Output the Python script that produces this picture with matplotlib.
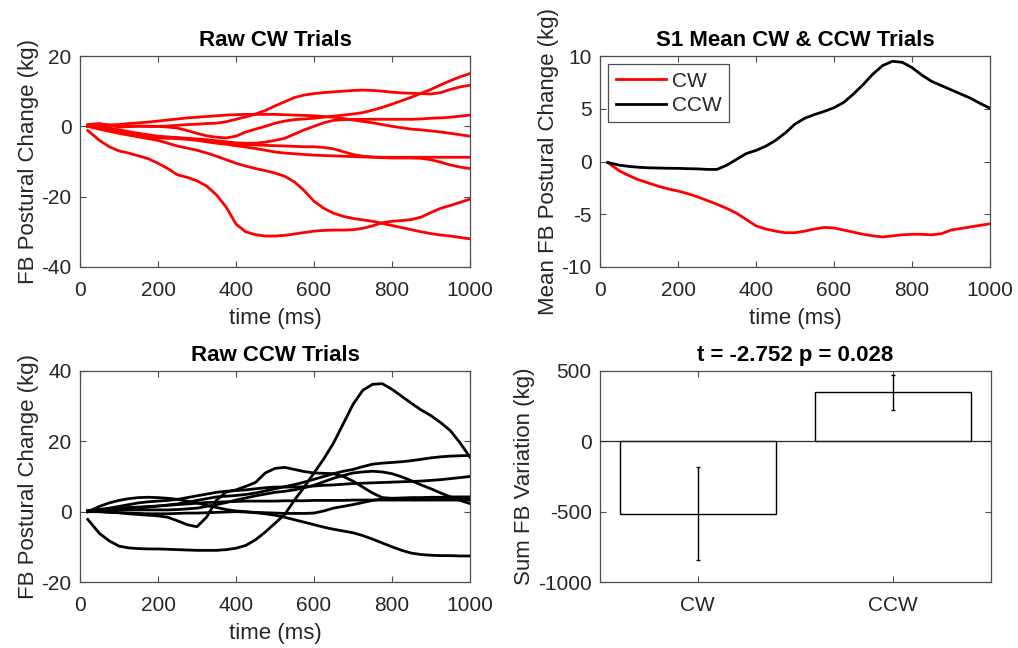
import matplotlib
matplotlib.use("Agg")
import matplotlib.pyplot as plt
import numpy as np

plt.rcParams["font.family"] = ["Liberation Sans", "DejaVu Sans"]
plt.rcParams["axes.unicode_minus"] = False

# Sample times (ms)
time_ms = [20, 50, 75, 100, 125, 150, 175, 200, 225, 250, 275, 300, 325, 350, 375,
           400, 425, 450, 475, 500, 525, 550, 575, 600, 625, 650, 675, 700, 725,
           750, 775, 800, 825, 850, 875, 900, 925, 950, 975, 1000]

# Raw clockwise trials (kg)
cw_trial_1 = [-1.2, -4.0, -5.8, -7.0, -7.6, -8.4, -9.2, -10.5, -12.0, -13.8, -14.5, -15.5,
              -17.0, -19.5, -23.0, -27.8, -30.0, -30.8, -31.2, -31.2, -31.0, -30.6, -30.2,
              -29.8, -29.6, -29.5, -29.5, -29.4, -29.0, -28.3, -27.4, -27.0, -26.8, -26.5,
              -25.8, -24.5, -23.3, -22.5, -21.6, -20.7]
cw_trial_2 = [0.0, -0.8, -1.4, -2.0, -2.5, -3.0, -3.5, -4.0, -4.8, -5.6, -6.2, -6.8,
              -7.6, -8.5, -9.5, -10.5, -11.3, -12.0, -12.6, -13.3, -14.2, -15.8, -18.3,
              -21.3, -23.3, -24.7, -25.6, -26.2, -26.6, -27.0, -27.6, -28.2, -28.8, -29.4,
              -30.0, -30.5, -30.9, -31.2, -31.6, -32.0]
cw_trial_3 = [0.2, 0.5, 0.3, 0.2, 0.1, 0.1, 0.0, 0.0, -0.2, -0.5, -1.2, -2.0,
              -2.7, -3.1, -3.3, -2.8, -1.6, -0.8, 0.0, 0.9, 1.5, 1.9, 2.1, 2.3, 2.6,
              2.9, 3.2, 3.5, 3.9, 4.6, 5.4, 6.3, 7.3, 8.3, 9.4, 10.5, 11.8, 13.0, 14.1, 15.0]
cw_trial_4 = [0.5, 0.8, 0.3, -0.2, -0.1, 0.0, 0.0, 0.0, 0.1, 0.3, 0.5, 0.6,
              0.8, 0.9, 1.3, 2.0, 2.7, 3.5, 4.5, 5.8, 7.0, 8.2, 8.9, 9.3, 9.6,
              9.8, 10.0, 10.2, 10.3, 10.2, 10.0, 9.7, 9.5, 9.4, 9.3, 9.2, 9.6, 10.5, 11.2, 11.7]
cw_trial_5 = [0.0, 0.3, 0.4, 0.5, 0.8, 1.0, 1.2, 1.5, 1.8, 2.1, 2.4, 2.6,
              2.8, 3.0, 3.2, 3.3, 3.4, 3.4, 3.4, 3.4, 3.3, 3.2, 3.1, 3.0, 2.8,
              2.6, 2.2, 1.8, 1.4, 1.0, 0.5, 0.0, -0.4, -0.8, -1.0, -1.3, -1.6, -2.0, -2.4, -2.8]
cw_trial_6 = [0.0, 0.0, -0.5, -1.0, -1.5, -2.0, -2.4, -2.8, -3.0, -3.2, -3.4, -3.6,
              -3.8, -4.1, -4.4, -4.7, -4.8, -4.8, -4.5, -4.0, -3.4, -2.2, -1.0, 0.0, 1.0,
              1.7, 1.9, 2.0, 2.0, 2.0, 2.0, 2.0, 2.0, 2.0, 2.1, 2.3, 2.4, 2.6, 2.9, 3.2]
cw_trial_7 = [0.0, 0.2, -0.6, -1.5, -2.0, -2.5, -2.8, -3.0, -3.2, -3.3, -3.5, -3.8,
              -4.2, -4.5, -4.8, -5.0, -5.2, -5.3, -5.4, -5.5, -5.6, -5.7, -5.8, -5.8, -6.0,
              -6.4, -7.2, -8.0, -8.5, -8.7, -8.8, -8.8, -8.8, -8.8, -8.8, -8.8, -8.8, -8.8, -8.8, -8.8]
cw_trial_8 = [0.0, -0.5, -1.2, -1.8, -2.3, -2.8, -3.1, -3.3, -3.4, -3.5, -3.7, -4.0,
              -4.4, -4.8, -5.1, -5.5, -5.9, -6.3, -6.8, -7.3, -7.6, -7.8, -8.0, -8.2, -8.3,
              -8.4, -8.5, -8.6, -8.7, -8.8, -8.9, -9.0, -9.0, -9.0, -9.1, -9.5, -10.2, -11.0, -11.6, -12.0]

# Raw counter-clockwise trials (kg)
ccw_trial_1 = [-2.2, -6.2, -8.3, -9.8, -10.3, -10.5, -10.6, -10.6, -10.7, -10.8, -10.9, -11.0,
               -11.0, -11.0, -10.8, -10.4, -9.6, -8.0, -5.8, -3.3, -0.8, 3.3, 7.0, 11.0, 15.0,
               19.5, 25.0, 30.5, 34.5, 36.2, 36.4, 34.8, 32.8, 30.8, 28.9, 27.3, 25.3, 23.0, 19.5, 15.5]
ccw_trial_2 = [0.0, 0.0, -0.1, -0.3, -0.6, -0.8, -1.0, -1.2, -1.6, -2.6, -3.7, -4.3,
               -1.5, 3.3, 5.6, 6.2, 7.2, 8.3, 11.0, 12.3, 12.6, 12.0, 11.4, 11.0, 10.9,
               10.8, 10.0, 8.7, 7.0, 5.3, 4.0, 3.8, 3.7, 3.7, 3.6, 3.6, 3.7, 3.7, 3.8, 3.8]
ccw_trial_3 = [0.3, 0.5, 0.6, 0.7, 0.85, 1.0, 1.3, 1.6, 1.9, 2.2, 2.7, 3.2,
               3.7, 4.2, 4.4, 4.6, 4.9, 5.3, 5.9, 6.5, 7.1, 7.7, 8.4, 9.2, 10.0,
               10.8, 11.5, 12.0, 12.8, 13.5, 13.8, 14.0, 14.2, 14.5, 14.9, 15.3, 15.6, 15.8, 15.9, 16.0]
ccw_trial_4 = [0.3, 0.6, 1.0, 1.5, 2.0, 2.5, 2.8, 3.0, 3.2, 3.5, 4.0, 4.5,
               5.0, 5.5, 5.8, 6.0, 6.2, 6.5, 6.8, 7.0, 7.0, 7.0, 7.1, 7.3, 7.5,
               7.6, 7.8, 8.0, 8.1, 8.2, 8.3, 8.4, 8.5, 8.6, 8.7, 8.9, 9.1, 9.4, 9.7, 10.0]
ccw_trial_5 = [0.0, 1.5, 2.5, 3.2, 3.7, 4.0, 4.1, 4.0, 3.8, 3.5, 3.0, 2.5,
               1.8, 1.2, 0.6, 0.2, 0.0, -0.3, -0.6, -1.0, -1.6, -2.3, -3.0, -3.7, -4.4,
               -5.0, -5.5, -6.0, -6.8, -7.8, -8.9, -10.0, -11.0, -11.8, -12.2, -12.4, -12.5, -12.5, -12.6, -12.6]
ccw_trial_6 = [0.0, 0.0, -0.2, -0.3, -0.4, -0.5, -0.6, -0.6, -0.6, -0.5, -0.4, -0.4,
               -0.3, -0.2, -0.1, 0.0, -0.1, -0.2, -0.3, -0.4, -0.5, -0.5, -0.5, -0.4, 0.2,
               1.0, 1.5, 2.0, 2.6, 3.2, 3.6, 3.8, 3.9, 4.0, 4.0, 4.1, 4.1, 4.2, 4.2, 4.2]
ccw_trial_7 = [0.0, 0.5, 0.8, 1.0, 1.2, 1.3, 1.5, 1.6, 1.8, 2.0, 2.2, 2.4,
               2.6, 2.7, 2.8, 2.9, 3.0, 3.0, 3.0, 3.0, 3.1, 3.1, 3.1, 3.2, 3.2,
               3.2, 3.2, 3.3, 3.3, 3.3, 3.3, 3.3, 3.3, 3.3, 3.3, 3.3, 3.3, 3.3, 3.3, 3.3]
ccw_trial_8 = [0.0, 0.3, 0.4, 0.5, 0.5, 0.5, 0.5, 0.5, 0.5, 0.6, 0.8, 1.0,
               1.5, 2.0, 2.6, 3.3, 3.9, 4.5, 5.0, 5.5, 5.8, 6.2, 6.8, 7.5, 8.5,
               9.5, 10.3, 11.0, 11.3, 11.5, 11.3, 10.8, 9.9, 8.8, 7.6, 6.5, 5.3, 4.2, 3.2, 2.3]

# Subject mean traces (kg)
mean_cw = [-0.1, -0.9, -1.35, -1.75, -2.05, -2.35, -2.6, -2.8, -3.05, -3.35, -3.7, -4.05,
           -4.45, -4.9, -5.5, -6.1, -6.4, -6.6, -6.75, -6.75, -6.6, -6.4, -6.25, -6.3, -6.5,
           -6.7, -6.9, -7.05, -7.15, -7.05, -6.95, -6.9, -6.9, -6.95, -6.85, -6.5, -6.35, -6.2, -6.05, -5.9]
mean_ccw = [-0.1, -0.35, -0.47, -0.55, -0.6, -0.62, -0.64, -0.65, -0.68, -0.7, -0.75, -0.75,
            -0.35, 0.2, 0.75, 1.05, 1.45, 2.0, 2.7, 3.55, 4.1, 4.45, 4.75, 5.1, 5.6,
            6.4, 7.3, 8.3, 9.1, 9.5, 9.4, 8.9, 8.2, 7.6, 7.2, 6.8, 6.4, 6.0, 5.5, 5.05]

# Summed variation per direction
conditions = ["CW", "CCW"]
sum_variation = [-514, 348]
sum_variation_err = [330, 125]
stats_title = "t = -2.752 p = 0.028"

cw_trials = [cw_trial_1, cw_trial_2, cw_trial_3, cw_trial_4,
             cw_trial_5, cw_trial_6, cw_trial_7, cw_trial_8]
ccw_trials = [ccw_trial_1, ccw_trial_2, ccw_trial_3, ccw_trial_4,
              ccw_trial_5, ccw_trial_6, ccw_trial_7, ccw_trial_8]

TEXT = "#262626"
AXC = "#4d4d4d"
TICK_FS = 15
LABEL_FS = 16
TITLE_FS = 16

fig = plt.figure(figsize=(10.18, 6.48), dpi=100)
W, H = 1018, 648


def make_axes(x0, y0, x1, y1):
    ax = fig.add_axes([x0 / W, 1 - y1 / H, (x1 - x0) / W, (y1 - y0) / H])
    for s in ax.spines.values():
        s.set_color(AXC)
        s.set_linewidth(0.9)
    ax.tick_params(direction="in", top=True, right=True, length=4,
                   width=0.8, color=AXC, labelsize=TICK_FS, labelcolor=TEXT)
    ax.tick_params(axis="x", pad=10)
    ax.tick_params(axis="y", pad=6)
    return ax


def style_labels(ax, title, ylabel, xlabel=None):
    ax.set_title(title, fontsize=TITLE_FS, fontweight="bold", color="black", pad=7)
    ax.set_ylabel(ylabel, fontsize=LABEL_FS, color=TEXT, labelpad=2)
    if xlabel:
        ax.set_xlabel(xlabel, fontsize=LABEL_FS, color=TEXT, labelpad=6)


# Raw CW trials
ax1 = make_axes(80, 56, 470, 267)
for tr in cw_trials:
    ax1.plot(time_ms, tr, color="red", lw=2.0)
ax1.set_xlim(0, 1000)
ax1.set_ylim(-40, 20)
ax1.set_xticks([0, 200, 400, 600, 800, 1000])
ax1.set_yticks([-40, -20, 0, 20])
style_labels(ax1, "Raw CW Trials", "FB Postural Change (kg)", "time (ms)")

# Mean CW & CCW
ax2 = make_axes(600, 56, 990, 267)
ax2.plot(time_ms, mean_cw, color="red", lw=2.0, label="CW")
ax2.plot(time_ms, mean_ccw, color="black", lw=2.0, label="CCW")
ax2.set_xlim(0, 1000)
ax2.set_ylim(-10, 10)
ax2.set_xticks([0, 200, 400, 600, 800, 1000])
ax2.set_yticks([-10, -5, 0, 5, 10])
style_labels(ax2, "S1 Mean CW & CCW Trials", "Mean FB Postural Change (kg)", "time (ms)")
leg = ax2.legend(loc="upper left", fontsize=TICK_FS, frameon=True, fancybox=False,
                 edgecolor="#4d4d4d", framealpha=1, handlelength=2.4,
                 handletextpad=0.3, labelspacing=0.25, borderpad=0.35,
                 borderaxespad=0.4)
leg.get_frame().set_linewidth(0.9)
for txt in leg.get_texts():
    txt.set_color(TEXT)

# Raw CCW trials
ax3 = make_axes(80, 371, 470, 582)
for tr in ccw_trials:
    ax3.plot(time_ms, tr, color="black", lw=2.0)
ax3.set_xlim(0, 1000)
ax3.set_ylim(-20, 40)
ax3.set_xticks([0, 200, 400, 600, 800, 1000])
ax3.set_yticks([-20, 0, 20, 40])
style_labels(ax3, "Raw CCW Trials", "FB Postural Change (kg)", "time (ms)")

# Summed variation bars
ax4 = make_axes(600, 371, 991, 582)
xpos = np.arange(1, len(conditions) + 1)
ax4.bar(xpos, sum_variation, width=0.8, color="white", edgecolor="black", linewidth=1.0, zorder=2)
ax4.axhline(0, color="#262626", lw=0.9, zorder=3)
ax4.errorbar(xpos, sum_variation, yerr=sum_variation_err, fmt="none",
             ecolor="black", elinewidth=1.0, capsize=1.5, capthick=1.0, zorder=4)
ax4.set_xlim(0.5, 2.5)
ax4.set_ylim(-1000, 500)
ax4.set_xticks(xpos)
ax4.set_xticklabels(conditions)
ax4.set_yticks([-1000, -500, 0, 500])
style_labels(ax4, stats_title, "Sum FB Variation (kg)")

fig.savefig("out.png", dpi=100, facecolor="white")
